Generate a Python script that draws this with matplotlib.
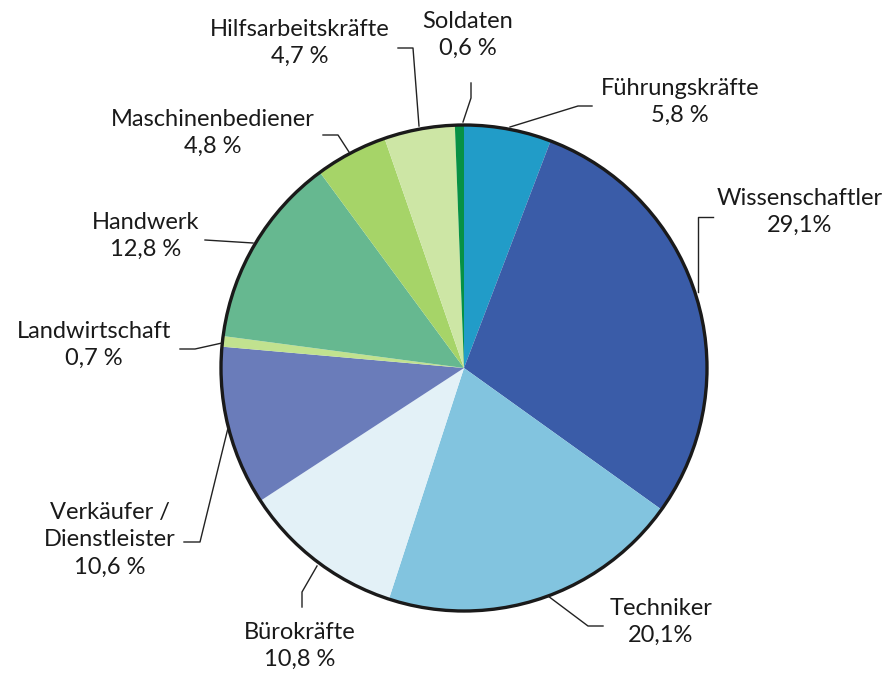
import numpy as np
import matplotlib
matplotlib.use('Agg')
import matplotlib.pyplot as plt
from matplotlib.patches import Circle

# data (clockwise from 12 o'clock)
groups = ['Führungskräfte', 'Wissenschaftler', 'Techniker', 'Bürokräfte',
          'Verkäufer /\nDienstleister', 'Landwirtschaft', 'Handwerk',
          'Maschinenbediener', 'Hilfsarbeitskräfte', 'Soldaten']
shares = [5.8, 29.1, 20.1, 10.8, 10.6, 0.7, 12.8, 4.8, 4.7, 0.6]
pct_text = ['5,8 %', '29,1%', '20,1%', '10,8 %', '10,6 %', '0,7 %',
            '12,8 %', '4,8 %', '4,7 %', '0,6 %']

colors = ['#219cc8', '#3a5ca8', '#82c4df', '#e3f1f7', '#6a7cba',
          '#c1e28f', '#66b890', '#a6d468', '#cde6a5', '#079145']

# label centres and leader polylines, in pixel coords of the 892x675 image
label_pos = [(680, 102), (800, 212), (661, 622), (300, 646), (110, 540),
             (94, 345), (146, 236), (213, 133), (300, 43), (468, 35)]
leaders = [
    [(510, 127), (578, 106), (592, 106)],
    [(698, 292), (698, 217), (713, 217)],
    [(548, 596), (588, 626), (603, 626)],
    [(317, 566), (302, 592), (302, 607)],
    [(228, 428), (200, 542), (184, 542)],
    [(222, 343), (195, 349), (180, 349)],
    [(253, 243), (205, 240)],
    [(349, 152), (338, 135), (323, 135)],
    [(419, 126), (413, 48), (398, 48)],
    [(463, 122), (471, 98), (471, 83)],
]

W, H = 892, 675
cx, cy, R = 464, 368, 243

fig = plt.figure(figsize=(W / 100, H / 100), dpi=100)
ax = fig.add_axes([0, 0, 1, 1])
ax.pie(shares, colors=colors, startangle=90, counterclock=False, radius=1,
       wedgeprops=dict(linewidth=0))
ax.add_patch(Circle((0, 0), 1.0, fill=False, ec='#1a1a1a', lw=2.4, zorder=5))
ax.set_xlim(-cx / R, (W - cx) / R)
ax.set_ylim(-(H - cy) / R, cy / R)
ax.set_aspect('equal')
ax.axis('off')

# overlay in pixel coords for labels and leader lines
ov = fig.add_axes([0, 0, 1, 1], facecolor='none')
ov.set_xlim(0, W)
ov.set_ylim(H, 0)
ov.axis('off')

for name, p, (lx, ly), pts in zip(groups, pct_text, label_pos, leaders):
    ov.text(lx, ly, name + '\n' + p, ha='center', va='center',
            fontsize=17, family=['Lato', 'DejaVu Sans'],
            color='#1a1a1a', linespacing=1.38)
    xs, ys = zip(*pts)
    ov.plot(xs, ys, color='#222222', lw=1.0)

fig.savefig('out.png', dpi=100)
